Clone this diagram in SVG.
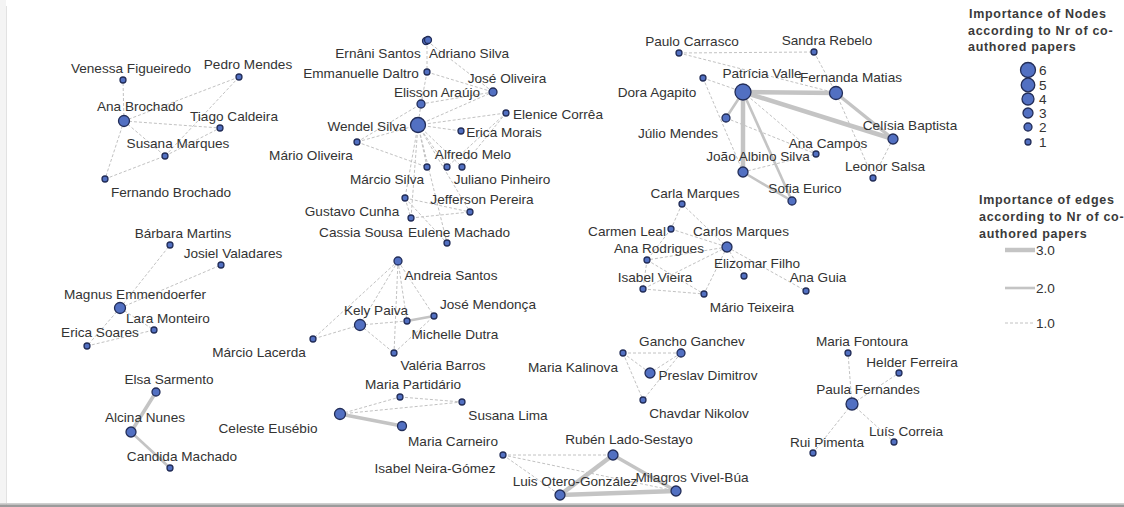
<svg xmlns="http://www.w3.org/2000/svg" width="1124" height="507" viewBox="0 0 1124 507">
<style>
.e1{stroke:#c2c2c2;stroke-width:1;stroke-dasharray:3 2;fill:none}
.e2{stroke:#c4c4c4;stroke-width:2.6;fill:none}
.e25{stroke:#c4c4c4;stroke-width:3.5;fill:none}
.e3{stroke:#c4c4c4;stroke-width:4.5;fill:none}
.n{fill:#5270c2;stroke:#222d58;stroke-width:1.3}
.t{font-family:"Liberation Sans",Arial,sans-serif;font-size:13.6px;fill:#333;text-anchor:middle}
.lt{font-family:"Liberation Sans",Arial,sans-serif;font-size:12.5px;font-weight:bold;letter-spacing:0.7px;fill:#3a3a3a}
.ln{font-family:"Liberation Sans",Arial,sans-serif;font-size:13.6px;fill:#333}
</style>
<rect x="0" y="0" width="1124" height="507" fill="#fff"/>
<rect x="0" y="0" width="6" height="505" fill="#f4f4f4"/>
<line x1="6.5" y1="6" x2="6.5" y2="505" stroke="#e2e2e2" stroke-width="1"/>
<rect x="0" y="503" width="1124" height="1.5" fill="#cfcfcf"/>
<rect x="0" y="504.5" width="1124" height="2.5" fill="#9b9b9b"/>

<g id="connectors">
<!-- cluster Ana Brochado -->
<line class="e1" x1="124" y1="121" x2="123" y2="80"/>
<line class="e1" x1="124" y1="121" x2="239" y2="77"/>
<line class="e1" x1="124" y1="121" x2="220" y2="128"/>
<line class="e1" x1="124" y1="121" x2="165" y2="156"/>
<line class="e1" x1="124" y1="121" x2="105" y2="179"/>
<line class="e1" x1="165" y1="156" x2="239" y2="77"/>
<line class="e1" x1="105" y1="179" x2="165" y2="156"/>
<line class="e1" x1="165" y1="156" x2="220" y2="128"/>
<!-- cluster Wendel Silva -->
<line class="e1" x1="427" y1="41" x2="427" y2="72"/>
<line class="e1" x1="427" y1="41" x2="493" y2="92"/>
<line class="e1" x1="427" y1="72" x2="493" y2="92"/>
<line class="e1" x1="427" y1="72" x2="421" y2="104"/>
<line class="e1" x1="421" y1="104" x2="493" y2="92"/>
<line class="e1" x1="421" y1="104" x2="418" y2="125"/>
<line class="e1" x1="418" y1="125" x2="493" y2="92"/>
<line class="e1" x1="418" y1="125" x2="506" y2="113"/>
<line class="e1" x1="418" y1="125" x2="461" y2="131"/>
<line class="e1" x1="418" y1="125" x2="357" y2="142"/>
<line class="e1" x1="357" y1="142" x2="421" y2="104"/>
<line class="e1" x1="357" y1="142" x2="427" y2="167"/>
<line class="e1" x1="418" y1="125" x2="427" y2="167"/>
<line class="e1" x1="418" y1="125" x2="447" y2="167"/>
<line class="e1" x1="418" y1="125" x2="462" y2="167"/>
<line class="e1" x1="506" y1="113" x2="447" y2="167"/>
<line class="e1" x1="506" y1="113" x2="462" y2="167"/>
<line class="e1" x1="418" y1="125" x2="405" y2="198"/>
<line class="e1" x1="418" y1="125" x2="411" y2="218"/>
<line class="e1" x1="418" y1="125" x2="447" y2="243"/>
<line class="e1" x1="418" y1="125" x2="470" y2="212"/>
<line class="e1" x1="405" y1="198" x2="470" y2="212"/>
<line class="e1" x1="411" y1="218" x2="470" y2="212"/>
<line class="e1" x1="405" y1="198" x2="411" y2="218"/>
<line class="e1" x1="405" y1="198" x2="447" y2="243"/>
<!-- cluster Patricia Valle -->
<line class="e1" x1="679" y1="53" x2="814" y2="52"/>
<line class="e1" x1="679" y1="53" x2="836" y2="93"/>
<line class="e1" x1="814" y1="52" x2="836" y2="93"/>
<line class="e1" x1="836" y1="93" x2="873" y2="178"/>
<line class="e1" x1="703" y1="78" x2="743" y2="92"/>
<line class="e1" x1="703" y1="78" x2="743" y2="172"/>
<line class="e1" x1="743" y1="92" x2="816" y2="154"/>
<line class="e1" x1="726" y1="118" x2="816" y2="154"/>
<line class="e1" x1="743" y1="172" x2="816" y2="154"/>
<line class="e1" x1="893" y1="139" x2="873" y2="178"/>
<line class="e3" x1="743" y1="92" x2="836" y2="93"/>
<line class="e3" x1="743" y1="92" x2="893" y2="139"/>
<line class="e25" x1="836" y1="93" x2="893" y2="139"/>
<line class="e3" x1="743" y1="92" x2="743" y2="172"/>
<line class="e2" x1="743" y1="92" x2="792" y2="201"/>
<line class="e2" x1="743" y1="92" x2="726" y2="118"/>
<line class="e2" x1="743" y1="172" x2="792" y2="201"/>
<!-- cluster Carlos Marques -->
<line class="e1" x1="682" y1="204" x2="671" y2="229"/>
<line class="e1" x1="682" y1="204" x2="727" y2="247"/>
<line class="e1" x1="671" y1="229" x2="727" y2="247"/>
<line class="e1" x1="671" y1="229" x2="647" y2="260"/>
<line class="e1" x1="727" y1="247" x2="647" y2="260"/>
<line class="e1" x1="727" y1="247" x2="643" y2="289"/>
<line class="e1" x1="727" y1="247" x2="704" y2="294"/>
<line class="e1" x1="727" y1="247" x2="744" y2="276"/>
<line class="e1" x1="727" y1="247" x2="806" y2="291"/>
<line class="e1" x1="647" y1="260" x2="643" y2="289"/>
<line class="e1" x1="647" y1="260" x2="704" y2="294"/>
<line class="e1" x1="643" y1="289" x2="704" y2="294"/>
<!-- cluster Magnus -->
<line class="e1" x1="120" y1="308" x2="170" y2="245"/>
<line class="e1" x1="120" y1="308" x2="221" y2="265"/>
<line class="e1" x1="120" y1="308" x2="154" y2="330"/>
<line class="e1" x1="120" y1="308" x2="87" y2="346"/>
<line class="e1" x1="87" y1="346" x2="154" y2="330"/>
<!-- cluster Alcina -->
<line class="e25" x1="156" y1="392" x2="131" y2="432"/>
<line class="e2" x1="131" y1="432" x2="170" y2="468"/>
<!-- cluster Kely Paiva -->
<line class="e1" x1="398" y1="261" x2="360" y2="325"/>
<line class="e1" x1="398" y1="261" x2="313" y2="339"/>
<line class="e1" x1="398" y1="261" x2="407" y2="321"/>
<line class="e1" x1="398" y1="261" x2="394" y2="353"/>
<line class="e1" x1="398" y1="261" x2="434" y2="316"/>
<line class="e1" x1="360" y1="325" x2="313" y2="339"/>
<line class="e1" x1="360" y1="325" x2="407" y2="321"/>
<line class="e1" x1="360" y1="325" x2="394" y2="353"/>
<line class="e1" x1="394" y1="353" x2="434" y2="316"/>
<line class="e2" x1="407" y1="321" x2="434" y2="316"/>
<!-- cluster Celeste -->
<line class="e1" x1="340" y1="414" x2="400" y2="397"/>
<line class="e1" x1="340" y1="414" x2="462" y2="402"/>
<line class="e1" x1="400" y1="397" x2="462" y2="402"/>
<line class="e25" x1="340" y1="414" x2="402" y2="426"/>
<!-- cluster Preslav -->
<line class="e1" x1="623" y1="353" x2="681" y2="353"/>
<line class="e1" x1="623" y1="353" x2="650" y2="373"/>
<line class="e1" x1="623" y1="353" x2="643" y2="400"/>
<line class="e1" x1="681" y1="353" x2="650" y2="373"/>
<line class="e1" x1="681" y1="353" x2="643" y2="400"/>
<!-- cluster Ruben -->
<line class="e1" x1="503" y1="455" x2="613" y2="455"/>
<line class="e1" x1="503" y1="455" x2="676" y2="491"/>
<line class="e1" x1="503" y1="455" x2="560" y2="495"/>
<line class="e3" x1="613" y1="455" x2="560" y2="495"/>
<line class="e25" x1="613" y1="455" x2="676" y2="491"/>
<line class="e3" x1="560" y1="495" x2="676" y2="491"/>
<!-- cluster Paula -->
<line class="e1" x1="852" y1="404" x2="848" y2="353"/>
<line class="e1" x1="852" y1="404" x2="899" y2="373"/>
<line class="e1" x1="852" y1="404" x2="894" y2="442"/>
<line class="e1" x1="852" y1="404" x2="813" y2="453"/>
</g>

<g id="n-venessa"><circle class="n" cx="123" cy="80" r="3"/><text class="t" x="131" y="73">Venessa Figueiredo</text></g>
<g id="n-pedro"><circle class="n" cx="239" cy="77" r="3"/><text class="t" x="248" y="69">Pedro Mendes</text></g>
<g id="n-ana-brochado"><circle class="n" cx="124" cy="121" r="5.5"/><text class="t" x="140" y="111">Ana Brochado</text></g>
<g id="n-tiago"><circle class="n" cx="220" cy="128" r="3"/><text class="t" x="234" y="121">Tiago Caldeira</text></g>
<g id="n-susana-marques"><circle class="n" cx="165" cy="156" r="3"/><text class="t" x="178" y="148">Susana Marques</text></g>
<g id="n-fernando"><circle class="n" cx="105" cy="179" r="3"/><text class="t" x="171" y="197">Fernando Brochado</text></g>

<g id="n-ernani"><circle class="n" cx="426" cy="41" r="3.5"/><text class="t" x="378" y="58">Ernâni Santos</text></g>
<g id="n-adriano"><circle class="n" cx="428" cy="40" r="3.5"/><text class="t" x="469" y="58">Adriano Silva</text></g>
<g id="n-emmanuelle"><circle class="n" cx="427" cy="72" r="3"/><text class="t" x="361" y="78">Emmanuelle Daltro</text></g>
<g id="n-jose-oliveira"><circle class="n" cx="493" cy="92" r="4"/><text class="t" x="507" y="83">José Oliveira</text></g>
<g id="n-elisson"><circle class="n" cx="421" cy="104" r="4"/><text class="t" x="437" y="97">Elisson Araújo</text></g>
<g id="n-wendel"><circle class="n" cx="418" cy="125" r="7.5"/><text class="t" x="367" y="131">Wendel Silva</text></g>
<g id="n-elenice"><circle class="n" cx="506" cy="113" r="3"/><text class="t" x="558" y="119">Elenice Corrêa</text></g>
<g id="n-erica-morais"><circle class="n" cx="461" cy="131" r="3"/><text class="t" x="504" y="137">Erica Morais</text></g>
<g id="n-mario-oliveira"><circle class="n" cx="357" cy="142" r="3"/><text class="t" x="311" y="160">Mário Oliveira</text></g>
<g id="n-marcio-silva"><circle class="n" cx="427" cy="167" r="3"/><text class="t" x="387" y="184">Márcio Silva</text></g>
<g id="n-alfredo"><circle class="n" cx="447" cy="167" r="3"/><text class="t" x="473" y="159">Alfredo Melo</text></g>
<g id="n-juliano"><circle class="n" cx="462" cy="167" r="3"/><text class="t" x="502" y="184">Juliano Pinheiro</text></g>
<g id="n-gustavo"><circle class="n" cx="405" cy="198" r="3"/><text class="t" x="352" y="216">Gustavo Cunha</text></g>
<g id="n-jefferson"><circle class="n" cx="470" cy="212" r="3"/><text class="t" x="482" y="204">Jefferson Pereira</text></g>
<g id="n-cassia"><circle class="n" cx="411" cy="218" r="3"/><text class="t" x="361" y="237">Cassia Sousa</text></g>
<g id="n-eulene"><circle class="n" cx="447" cy="243" r="3"/><text class="t" x="459" y="237">Eulene Machado</text></g>

<g id="n-paulo"><circle class="n" cx="679" cy="53" r="3"/><text class="t" x="692" y="46">Paulo Carrasco</text></g>
<g id="n-sandra"><circle class="n" cx="814" cy="52" r="3"/><text class="t" x="827" y="45">Sandra Rebelo</text></g>
<g id="n-dora"><circle class="n" cx="703" cy="78" r="3"/><text class="t" x="657" y="97">Dora Agapito</text></g>
<g id="n-patricia"><circle class="n" cx="743" cy="92" r="8"/><text class="t" x="762" y="78">Patrícia Valle</text></g>
<g id="n-fernanda"><circle class="n" cx="836" cy="93" r="6.5"/><text class="t" x="851" y="82">Fernanda Matias</text></g>
<g id="n-julio"><circle class="n" cx="726" cy="118" r="4"/><text class="t" x="678" y="138">Júlio Mendes</text></g>
<g id="n-celisia"><circle class="n" cx="893" cy="139" r="5"/><text class="t" x="910" y="130">Celísia Baptista</text></g>
<g id="n-ana-campos"><circle class="n" cx="816" cy="154" r="3"/><text class="t" x="828" y="148">Ana Campos</text></g>
<g id="n-joao"><circle class="n" cx="743" cy="172" r="5"/><text class="t" x="758" y="161">João Albino Silva</text></g>
<g id="n-leonor"><circle class="n" cx="873" cy="178" r="3"/><text class="t" x="885" y="171">Leonor Salsa</text></g>
<g id="n-sofia"><circle class="n" cx="792" cy="201" r="4"/><text class="t" x="805" y="193">Sofia Eurico</text></g>

<g id="n-carla"><circle class="n" cx="682" cy="204" r="3"/><text class="t" x="695" y="198">Carla Marques</text></g>
<g id="n-carmen"><circle class="n" cx="671" cy="229" r="3"/><text class="t" x="627" y="236">Carmen Leal</text></g>
<g id="n-carlos"><circle class="n" cx="727" cy="247" r="5"/><text class="t" x="741" y="236">Carlos Marques</text></g>
<g id="n-ana-rodrigues"><circle class="n" cx="647" cy="260" r="3"/><text class="t" x="659" y="253">Ana Rodrigues</text></g>
<g id="n-elizomar"><circle class="n" cx="744" cy="276" r="3"/><text class="t" x="757" y="268">Elizomar Filho</text></g>
<g id="n-ana-guia"><circle class="n" cx="806" cy="291" r="3"/><text class="t" x="818" y="282">Ana Guia</text></g>
<g id="n-isabel-vieira"><circle class="n" cx="643" cy="289" r="3"/><text class="t" x="655" y="282">Isabel Vieira</text></g>
<g id="n-mario-teixeira"><circle class="n" cx="704" cy="294" r="3"/><text class="t" x="752" y="312">Mário Teixeira</text></g>

<g id="n-barbara"><circle class="n" cx="170" cy="245" r="3"/><text class="t" x="183" y="238">Bárbara Martins</text></g>
<g id="n-josiel"><circle class="n" cx="221" cy="265" r="3"/><text class="t" x="233" y="258">Josiel Valadares</text></g>
<g id="n-magnus"><circle class="n" cx="120" cy="308" r="5.5"/><text class="t" x="135" y="299">Magnus Emmendoerfer</text></g>
<g id="n-lara"><circle class="n" cx="154" cy="330" r="3"/><text class="t" x="168" y="323">Lara Monteiro</text></g>
<g id="n-erica-soares"><circle class="n" cx="87" cy="346" r="3"/><text class="t" x="100" y="337">Erica Soares</text></g>
<g id="n-elsa"><circle class="n" cx="156" cy="392" r="4"/><text class="t" x="169" y="384">Elsa Sarmento</text></g>
<g id="n-alcina"><circle class="n" cx="131" cy="432" r="5"/><text class="t" x="145" y="422">Alcina Nunes</text></g>
<g id="n-candida"><circle class="n" cx="170" cy="468" r="3"/><text class="t" x="182" y="461">Candida Machado</text></g>

<g id="n-andreia"><circle class="n" cx="398" cy="261" r="4"/><text class="t" x="451" y="280">Andreia Santos</text></g>
<g id="n-jose-mendonca"><circle class="n" cx="434" cy="316" r="3"/><text class="t" x="488" y="309">José Mendonça</text></g>
<g id="n-kely"><circle class="n" cx="360" cy="325" r="5.5"/><text class="t" x="376" y="315">Kely Paiva</text></g>
<g id="n-michelle"><circle class="n" cx="407" cy="321" r="3"/><text class="t" x="455" y="339">Michelle Dutra</text></g>
<g id="n-marcio-lacerda"><circle class="n" cx="313" cy="339" r="3"/><text class="t" x="259" y="357">Márcio Lacerda</text></g>
<g id="n-valeria"><circle class="n" cx="394" cy="353" r="3"/><text class="t" x="443" y="370">Valéria Barros</text></g>

<g id="n-partidario"><circle class="n" cx="400" cy="397" r="3"/><text class="t" x="413" y="389">Maria Partidário</text></g>
<g id="n-susana-lima"><circle class="n" cx="462" cy="402" r="3"/><text class="t" x="508" y="420">Susana Lima</text></g>
<g id="n-celeste"><circle class="n" cx="340" cy="414" r="5.5"/><text class="t" x="268" y="433">Celeste Eusébio</text></g>
<g id="n-carneiro"><circle class="n" cx="402" cy="426" r="4.5"/><text class="t" x="453" y="446">Maria Carneiro</text></g>
<g id="n-isabel-neira"><circle class="n" cx="503" cy="455" r="3"/><text class="t" x="435" y="473">Isabel Neira-Gómez</text></g>

<g id="n-kalinova"><circle class="n" cx="623" cy="353" r="3"/><text class="t" x="573" y="372">Maria Kalinova</text></g>
<g id="n-gancho"><circle class="n" cx="681" cy="353" r="4"/><text class="t" x="692" y="346">Gancho Ganchev</text></g>
<g id="n-preslav"><circle class="n" cx="650" cy="373" r="5"/><text class="t" x="708" y="380">Preslav Dimitrov</text></g>
<g id="n-chavdar"><circle class="n" cx="643" cy="400" r="3"/><text class="t" x="699" y="418">Chavdar Nikolov</text></g>

<g id="n-ruben"><circle class="n" cx="613" cy="455" r="5"/><text class="t" x="629" y="444">Rubén Lado-Sestayo</text></g>
<g id="n-luis"><circle class="n" cx="560" cy="495" r="5"/><text class="t" x="575" y="486">Luis Otero-González</text></g>
<g id="n-milagros"><circle class="n" cx="676" cy="491" r="5"/><text class="t" x="692" y="482">Milagros Vivel-Búa</text></g>

<g id="n-fontoura"><circle class="n" cx="848" cy="353" r="3"/><text class="t" x="862" y="346">Maria Fontoura</text></g>
<g id="n-helder"><circle class="n" cx="899" cy="373" r="3"/><text class="t" x="912" y="367">Helder Ferreira</text></g>
<g id="n-paula"><circle class="n" cx="852" cy="404" r="6"/><text class="t" x="868" y="394">Paula Fernandes</text></g>
<g id="n-luis-correia"><circle class="n" cx="894" cy="442" r="3"/><text class="t" x="906" y="436">Luís Correia</text></g>
<g id="n-rui"><circle class="n" cx="813" cy="453" r="3"/><text class="t" x="827" y="447">Rui Pimenta</text></g>

<g id="legend-nodes">
<text class="lt" x="969" y="18">Importance of Nodes</text>
<text class="lt" x="968" y="35">according to Nr of co-</text>
<text class="lt" x="968" y="51">authored papers</text>
<circle class="n" cx="1028" cy="70" r="7.5"/><text class="ln" x="1039" y="75">6</text>
<circle class="n" cx="1028" cy="85" r="6.8"/><text class="ln" x="1039" y="90">5</text>
<circle class="n" cx="1028" cy="99" r="6"/><text class="ln" x="1039" y="104">4</text>
<circle class="n" cx="1028" cy="113" r="5"/><text class="ln" x="1039" y="118">3</text>
<circle class="n" cx="1028" cy="127" r="4"/><text class="ln" x="1039" y="132">2</text>
<circle class="n" cx="1028" cy="142" r="3"/><text class="ln" x="1039" y="147">1</text>
</g>
<g id="legend-edges">
<text class="lt" x="979" y="204">Importance of edges</text>
<text class="lt" x="979" y="221">according to Nr of co-</text>
<text class="lt" x="979" y="238">authored papers</text>
<line class="e3" x1="1005" y1="250" x2="1035" y2="250"/><text class="ln" x="1036" y="255">3.0</text>
<line class="e2" x1="1005" y1="288" x2="1035" y2="288"/><text class="ln" x="1036" y="293">2.0</text>
<line class="e1" x1="1005" y1="323" x2="1035" y2="323"/><text class="ln" x="1036" y="328">1.0</text>
</g>
</svg>
